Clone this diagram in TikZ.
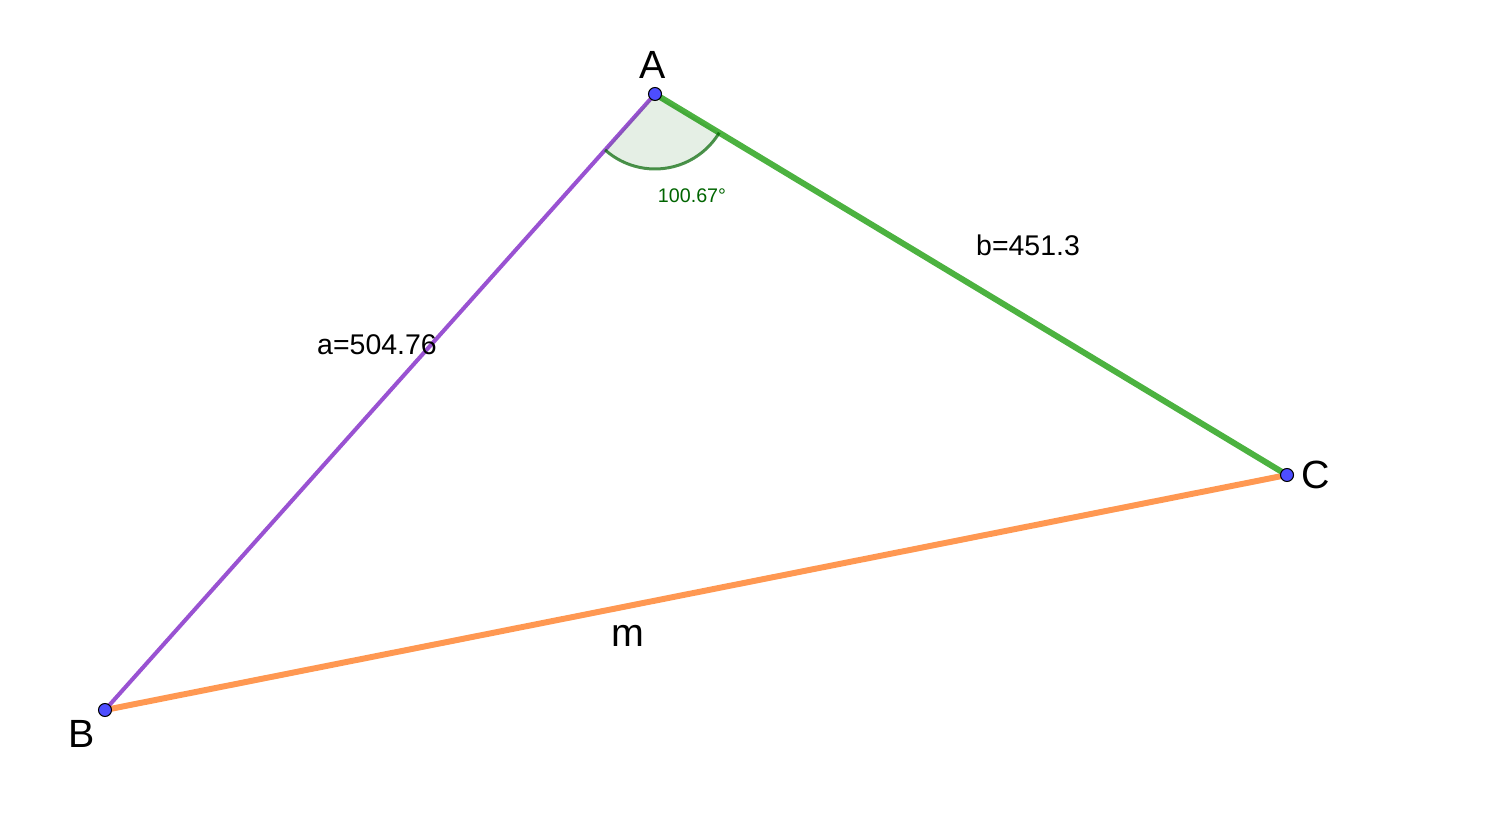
\documentclass[tikz,border=0pt]{standalone}
\usepackage{fontspec}
\setmainfont{Liberation Sans}
\usepackage{tikz}
\usetikzlibrary{calc}
\definecolor{segpurple}{RGB}{153,82,210}
\definecolor{seggreen}{RGB}{76,178,64}
\definecolor{segorange}{RGB}{255,152,82}
\definecolor{angdark}{RGB}{0,100,0}
\definecolor{ptblue}{RGB}{77,77,255}
\tikzset{
	ptdot/.style={circle, draw=black, fill=ptblue, line width=0.3pt, inner sep=0pt, minimum size=0.13cm},
	ptlabel/.style={font=\fontsize{11.2}{13}\selectfont},
	seglabel/.style={font=\fontsize{8.1}{9}\selectfont},
}
\begin{document}
\begin{tikzpicture}[x=1cm, y=1cm]
			%%%%% START %%%%%
			\useasboundingbox (0, 0) rectangle (14.99, 8.14);
			
			\coordinate (A) at (6.55, 7.20);
			\coordinate (B) at (1.05, 1.04);
			\coordinate (C) at (12.87, 3.39);
			
			\draw[line width=1.7pt, color=segorange] (B) -- (C);
			\draw[line width=1.7pt, color=seggreen] (A) -- (C);
			\draw[line width=1.15pt, color=segpurple] (A) -- (B);
			
			\fill[color=angdark, fill opacity=0.1] (A) -- ++(228.24:0.75) arc (228.24:328.92:0.75) -- cycle;
			\draw[line width=0.85pt, color=angdark, draw opacity=0.7] ($(A)+(228.24:0.75)$) arc (228.24:328.92:0.75);
			
			\node[ptdot] (pA) at (A) {};
			\node[ptdot] (pB) at (B) {};
			\node[ptdot] (pC) at (C) {};
			
			\node[ptlabel] (lA) at (6.53, 7.49) {A};
			\node[ptlabel] (lB) at (0.82, 0.80) {B};
			\node[ptlabel] (lC) at (13.16, 3.39) {C};
			\node[ptlabel] (lm) at (6.28, 1.78) {m};
			
			\node[seglabel] (la) at (3.77, 4.69) {a=504.76};
			\node[seglabel] (lb) at (10.28, 5.69) {b=451.3};
			\node[font=\fontsize{5.6}{7}\selectfont, color=angdark] (lang) at (6.92, 6.18) {100.67°};
			%%%%% END %%%%%
		\end{tikzpicture}
\end{document}
